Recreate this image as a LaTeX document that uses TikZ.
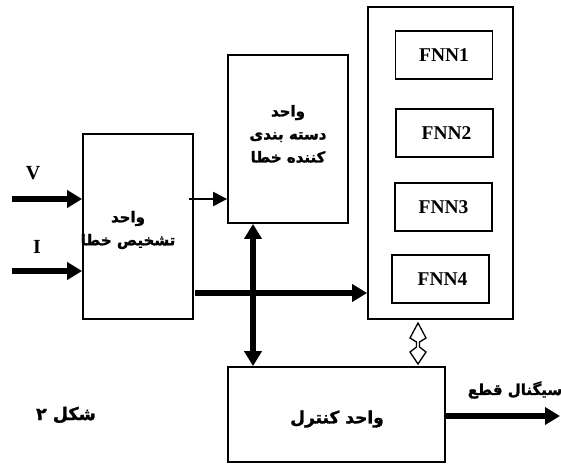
\documentclass[tikz,border=0pt]{standalone}
\usepackage{fontspec}
\setmainfont{Liberation Serif}
\newfontfamily\arabicfont[Script=Arabic,BoldFeatures={FakeBold=1.6}]{DejaVu Sans}
\TeXXeTstate=1
\usetikzlibrary{arrows.meta,calc}
\begin{document}
\begin{tikzpicture}[x=1pt,y=-1pt,
  blk/.style={draw, line width=1.8pt, inner sep=0pt},
  fnnbox/.style={blk, minimum width=97pt, minimum height=48pt, font=\fontsize{19.5}{22}\selectfont\bfseries},
  lat/.style={font=\fontsize{20}{22}\selectfont\bfseries},
  artext/.style={font=\arabicfont\bfseries\fontsize{15}{23}\selectfont, align=center, inner sep=0pt},
  bigarrow/.style={line width=5.5pt, -{Triangle[length=15pt,width=17pt]}},
  smallarrow/.style={line width=2.2pt, -{Triangle[length=14pt,width=14pt]}},
  dblarrow/.style={line width=5.5pt, {Triangle[length=15pt,width=17pt]}-{Triangle[length=15pt,width=17pt]}}
]
\useasboundingbox (0,0) rectangle (561,463);
% blocks
\node[blk, minimum width=110pt, minimum height=185pt] (det) at (138,226.5) {};
\node[blk, minimum width=120pt, minimum height=168pt] (cls) at (288,139) {};
\node[blk, minimum width=145pt, minimum height=312pt] (fnn) at (440.5,163) {};
\node[fnnbox] (f1) at (444,55) {FNN1};
\node[fnnbox] (f2) at (444.5,133) {\hspace*{4pt}FNN2};
\node[fnnbox] (f3) at (443.5,207) {FNN3};
\node[fnnbox] (f4) at (440.5,279) {\hspace*{4pt}FNN4};
\node[blk, minimum width=217pt, minimum height=95pt] (ctrl) at (336.5,414.5) {};
% texts
\node[artext] (dett) at (128,230) {\beginR واحد\endR\\\beginR تشخیص خطا\endR};
\node[artext] (clst) at (288,134) {\beginR واحد\endR\\\beginR دسته بندی\endR\\\beginR کننده خطا\endR};
\node[artext, font=\arabicfont\bfseries\fontsize{17}{23}\selectfont] (ctrlt) at (337,419) {\beginR واحد کنترل\endR};
\node[artext] (outl) at (515,390) {\beginR سیگنال قطع\endR};
\node[artext, font=\arabicfont\bfseries\fontsize{17.5}{23}\selectfont] (fig) at (66,415) {\beginR شکل ۲\endR};
\node[lat] (vl) at (33,173) {V};
\node[lat] (il) at (37,247) {I};
% connectors
\coordinate (vin) at (12,199);
\coordinate (iin) at (12,271);
\draw[bigarrow] (vin) -- (vin -| det.west);
\draw[bigarrow] (iin) -- (iin -| det.west);
\coordinate (a1) at (189,199);
\draw[smallarrow] (a1) -- (a1 -| cls.west);
\coordinate (a2) at (195,293);
\draw[bigarrow] (a2) -- (a2 -| fnn.west);
\coordinate (vx) at (253,300);
\draw[dblarrow] (vx |- cls.south) -- (vx |- ctrl.north);
\coordinate (oout) at (560,416);
\draw[bigarrow] (oout -| ctrl.east) -- (oout);
% hollow double arrow
\coordinate (hc) at (418,343);
\draw[line width=1.3pt, line join=miter]
  ($(hc)+(0,-20)$) -- ($(hc)+(-8,-5)$) -- ($(hc)+(-1.5,-1)$) -- ($(hc)+(-1.5,4)$) -- ($(hc)+(-8,9)$) -- ($(hc)+(0,21)$)
  -- ($(hc)+(8,9)$) -- ($(hc)+(1.5,4)$) -- ($(hc)+(1.5,-1)$) -- ($(hc)+(8,-5)$) -- cycle;
\end{tikzpicture}
\end{document}
